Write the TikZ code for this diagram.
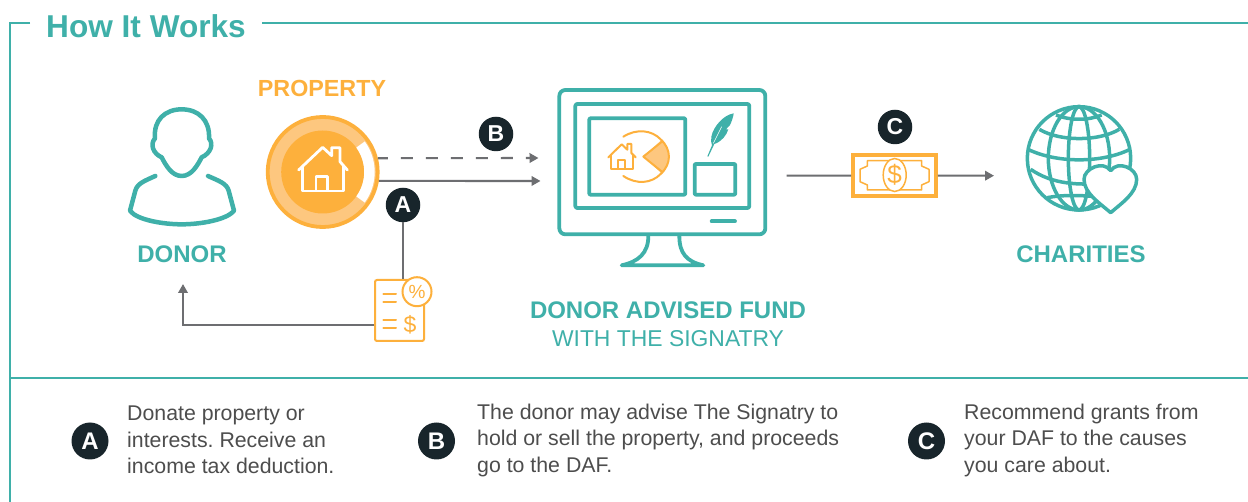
\documentclass[tikz,border=0pt]{standalone}
\usepackage{fontspec}
\setmainfont{Liberation Sans}
\usetikzlibrary{arrows.meta,calc,shapes.geometric}
\definecolor{teal1}{HTML}{3FB0A9}
\definecolor{orange1}{HTML}{FDB03C}
\definecolor{orange2}{HTML}{FDC77F}
\definecolor{dark1}{HTML}{18252B}
\definecolor{grey1}{HTML}{6D6E71}
\definecolor{text1}{HTML}{4D4D4D}
\tikzset{
  frameline/.style={teal1,line width=2.7pt},
  icon/.style={teal1,line width=4.5pt,line cap=round,line join=round},
  thinicon/.style={teal1,line width=3.8pt,line cap=round,line join=round},
  oicon/.style={orange1,line width=2pt,line cap=round,line join=round},
  conn/.style={grey1,line width=2.1pt},
  arr/.style={conn,-{Triangle[length=9pt,width=9.5pt]}},
  badge/.style={circle,fill=dark1,text=white,minimum size=34.5pt,inner sep=0pt,font=\fontsize{23}{23}\selectfont\bfseries},
  bigbadge/.style={badge,minimum size=37pt,font=\fontsize{24}{24}\selectfont\bfseries},
  tlabel/.style={text=teal1,font=\fontsize{24}{24}\selectfont\bfseries,inner sep=0pt},
  desc/.style={text=text1,anchor=west,align=left,inner sep=0pt,font=\fontsize{21.3}{26.5}\selectfont\frenchspacing},
  globeline/.style={teal1,line width=3.5pt},
}
\begin{document}
\begin{tikzpicture}[x=1pt,y=-1pt]
\useasboundingbox (0,0) rectangle (1248,502);
\fill[white] (0,0) rectangle (1248,502);
% frame
\coordinate (fa) at (30,23); \coordinate (fb) at (10,23); \coordinate (fc) at (10,502);
\coordinate (fd) at (262,23); \coordinate (fe) at (1248,23);
\coordinate (ff) at (10,378); \coordinate (fg) at (1248,378);
\draw[frameline] (fa) -- (fb) -- (fc);
\draw[frameline] (fd) -- (fe);
\draw[frameline] (ff) -- (fg);
\node[text=teal1,font=\fontsize{31.6}{31.6}\selectfont\bfseries,inner sep=0pt] (title) at (146,26) {How It Works};
% donor icon
\begin{scope}[shift={(100,70)},scale=1/3]
\draw[icon] (245,318) .. controls (215,318) and (197,285) .. (185,262)
  .. controls (158,250) and (150,222) .. (165,205)
  .. controls (160,150) and (195,118) .. (245,118)
  .. controls (295,118) and (330,150) .. (327,205)
  .. controls (342,222) and (332,250) .. (305,262)
  .. controls (293,285) and (275,318) .. (245,318) -- cycle;
\draw[icon] (166,318) .. controls (135,332) and (112,340) .. (106,362)
  -- (90,422) .. controls (110,450) and (190,463) .. (245,463)
  .. controls (300,463) and (380,450) .. (402,422)
  -- (386,362) .. controls (380,340) and (355,332) .. (324,318);
\end{scope}
\node[tlabel] (donor) at (182,254) {DONOR};
% property
\node[circle,draw=orange1,line width=3.8pt,fill=orange2,minimum size=110pt,inner sep=0pt] (prop) at (322.7,172) {};
\fill[orange1] (prop.center) circle[radius=41.5];
\begin{scope}[shift={(prop.center)}]
\fill[white] (-36:41.5) -- (-36:52) arc[start angle=-36,end angle=36,radius=52] -- (36:41.5) arc[start angle=36,end angle=-36,radius=41.5] -- cycle;
\end{scope}
\begin{scope}[shift={(100,70)},scale=1/3]
\draw[white,line width=2.8pt,line join=round,line cap=round] (596,300) -- (668,232) -- (695,257) -- (695,233) -- (720,233) -- (720,275) -- (742,300);
\draw[white,line width=2.8pt,line join=round] (608,288) -- (608,363) -- (730,363) -- (730,288);
\draw[white,line width=2.8pt,line join=round] (648,363) -- (648,320) -- (682,320) -- (682,363);
\end{scope}
\node[text=orange1,font=\fontsize{23.3}{23.3}\selectfont\bfseries,inner sep=0pt] (proplabel) at (322,88) {PROPERTY};
% monitor
\begin{scope}[shift={(540,80)},scale=1/3]
\draw[thinicon,rounded corners=6pt] (58,30) rectangle (676,463);
\draw[thinicon,rounded corners=2pt] (106,72) rectangle (628,384);
\draw[thinicon,rounded corners=1pt] (148,115) rectangle (436,344);
\draw[thinicon,rounded corners=1pt] (464,252) rectangle (586,344);
\draw[thinicon] (515,424) -- (585,424);
\draw[thinicon] (325,468) .. controls (325,520) and (295,545) .. (245,556) -- (490,556) .. controls (440,545) and (418,520) .. (418,468);
% feather
\fill[teal1] (581,100) .. controls (550,105) and (520,140) .. (514,170) .. controls (512,180) and (514,190) .. (516,196) -- (502,229) -- (505,230) -- (523,192) .. controls (545,185) and (560,165) .. (565,148) -- (558,148) -- (570,135) .. controls (575,125) and (580,110) .. (581,100) -- cycle;
\draw[white,line width=0.6pt] (520,190) -- (545,140);
% pie
\fill[orange2] (310,230) -- (367,178) .. controls (380,195) and (388,212) .. (388,230) .. controls (388,248) and (380,265) .. (367,282) -- cycle;
\draw[oicon] (367,276) -- (310,230) -- (367,184);
\draw[oicon] (250,170) .. controls (290,145) and (335,150) .. (362,178) .. controls (395,208) and (395,252) .. (362,282) .. controls (335,310) and (290,315) .. (250,288);
\draw[oicon] (205,232) -- (245,193) -- (262,209) -- (262,192) -- (274,192) -- (274,219) -- (287,232);
\draw[oicon] (212,226) -- (212,266) -- (280,266) -- (280,226);
\draw[oicon] (235,266) -- (235,241) -- (255,241) -- (255,266);
\end{scope}
\node[text=teal1,font=\fontsize{24}{24}\selectfont\bfseries,inner sep=0pt] (fund) at (668,310) {DONOR ADVISED FUND};
\node[text=teal1,font=\fontsize{22.9}{22.9}\selectfont,inner sep=0pt] (signatry) at (668,339) {WITH THE SIGNATRY};
% connectors property to monitor
\coordinate (dEnd) at (538.5,158);
\coordinate (sEnd) at (540.5,181);
\draw[arr,dash pattern=on 12pt off 13pt,dash phase=2pt] (prop.14) -- (dEnd);
\draw[arr] (prop.-9) -- (sEnd);
\node[badge] (bB) at (496,134) {B};
\node[badge] (bA) at (403,205) {A};
% document
\node[draw=orange1,line width=2pt,fill=white,rounded corners=2pt,minimum width=49pt,minimum height=61pt,inner sep=0pt] (doc) at (399.5,310.5) {};
\draw[conn] (bA) -- (bA |- doc.north);
\coordinate (docL) at (doc.west |- 0,325);
\coordinate (donorEnd) at (183,284);
\draw[arr] (docL) -| (donorEnd);
\begin{scope}[shift={(100,70)},scale=1/3]
\draw[oicon] (850,672) -- (888,672) (850,695) -- (888,695) (850,750) -- (888,750) (850,775) -- (888,775);
\end{scope}
\node[circle,draw=orange1,line width=2pt,fill=white,minimum size=29pt,inner sep=0pt,text=orange1,font=\fontsize{19}{19}\selectfont] (pct) at (417,291.7) {\%};
\node[text=orange1,inner sep=0pt,font=\fontsize{23}{23}\selectfont] (dol) at (410,325) {\$};
% money
\node[draw=orange1,line width=3.8pt,fill=white,minimum width=83pt,minimum height=41.5pt,inner sep=0pt] (money) at (894.5,175.5) {};
\begin{scope}[shift={(780,100)},scale=1/3]
\draw[oicon,line width=1.5pt] (262,182) -- (425,182) -- (425,198) -- (447,208) -- (447,245) -- (425,255) -- (425,270) -- (262,270) -- (262,255) -- (240,245) -- (240,208) -- (262,198) -- cycle;
\end{scope}
\node[ellipse,draw=orange1,line width=1.5pt,fill=white,minimum width=23pt,minimum height=33pt,inner sep=0pt,text=orange1,font=\fontsize{26}{26}\selectfont] (oval) at (894.7,175) {\$};
\coordinate (mStart) at (786.5,175.7);
\coordinate (mEnd) at (994,175.7);
\draw[conn] (mStart) -- (money);
\draw[arr] (money) -- (mEnd);
\node[badge] (bC) at (895,127) {C};
% globe
\begin{scope}[shift={(1020,100)},scale=1/3]
\draw[globeline] (177,175) circle[x radius=155,y radius=155];
\draw[globeline] (177,175) circle[x radius=92,y radius=155];
\draw[globeline] (177,175) circle[x radius=32,y radius=155];
\draw[globeline] (108,45) .. controls (150,62) and (205,62) .. (245,45);
\draw[globeline] (58,88) .. controls (120,125) and (235,125) .. (298,88);
\draw[globeline] (24,148) .. controls (110,190) and (245,190) .. (330,148);
\draw[globeline] (32,208) .. controls (100,255) and (180,255) .. (250,250);
\draw[globeline] (82,293) .. controls (120,285) and (180,285) .. (225,290);
\draw[globeline,fill=white,line join=round] (272,338) .. controls (240,310) and (192,280) .. (192,238) .. controls (192,205) and (250,180) .. (272,212) .. controls (294,180) and (350,205) .. (350,238) .. controls (350,280) and (304,310) .. (272,338) -- cycle;
\end{scope}
\node[tlabel] (char) at (1081,254) {CHARITIES};
% legend
\node[bigbadge] (lA) at (90,441) {A};
\node[bigbadge] (lB) at (436.5,441) {B};
\node[bigbadge] (lC) at (926.5,441) {C};
\node[desc] (tA) at (127,440) {Donate property or\\interests. Receive an\\income tax deduction.};
\node[desc] (tB) at (477,440) {The donor may advise The Signatry to\\hold or sell the property, and proceeds\\go to the DAF.};
\node[desc] (tC) at (964,440) {Recommend grants from\\your DAF to the causes\\you care about.};
\end{tikzpicture}
\end{document}
